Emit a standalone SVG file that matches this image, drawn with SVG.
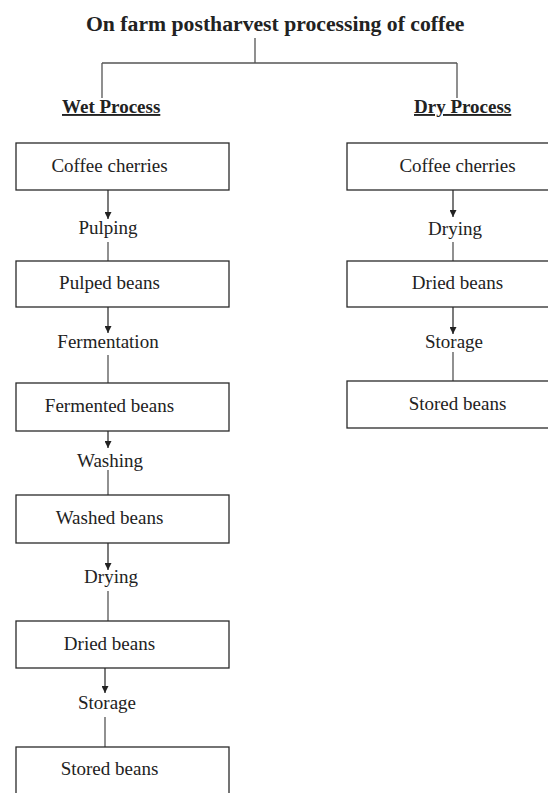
<svg xmlns="http://www.w3.org/2000/svg" width="548" height="793" viewBox="0 0 548 793">
<style>
text{font-family:'Liberation Serif','Times New Roman','DejaVu Serif',serif;fill:#222;}
.title{font-size:21.7px;font-weight:bold;}
.head{font-size:19px;font-weight:bold;text-decoration:underline;}
.body{font-size:19px;text-anchor:middle;}
.box{fill:#fff;stroke:#2a2a2a;stroke-width:1.3;}
.ln{stroke:#555;stroke-width:1.3;fill:none;}
.ar{stroke:#333;stroke-width:1.3;fill:none;marker-end:url(#ah);}
</style>
<defs>
<marker id="ah" viewBox="0 0 10 10" refX="10" refY="5" markerWidth="9" markerHeight="7" markerUnits="userSpaceOnUse" orient="auto">
<path d="M0,0 L10,5 L0,10 Z" fill="#222"/>
</marker>
</defs>
<g id="title"><text class="title" x="86" y="31" font-family="Liberation Serif, serif">On farm postharvest processing of coffee</text></g>
<g id="wet-head"><text class="head" x="62" y="113" font-family="Liberation Serif, serif">Wet Process</text></g>
<g id="dry-head"><text class="head" x="414" y="113" font-family="Liberation Serif, serif">Dry Process</text></g>

<g id="connectors">
<path class="ln" d="M255,38 V63 M102,63 H457 M102,63 V98 M457,63 V98"/>
<line class="ar" x1="108" y1="190" x2="108" y2="219"/>
<line class="ln" x1="108" y1="242" x2="108" y2="261"/>
<line class="ar" x1="108" y1="307" x2="108" y2="333"/>
<line class="ln" x1="108" y1="355" x2="108" y2="383"/>
<line class="ar" x1="108" y1="431" x2="108" y2="448"/>
<line class="ln" x1="108" y1="470" x2="108" y2="495"/>
<line class="ar" x1="108" y1="543" x2="108" y2="570"/>
<line class="ln" x1="108" y1="591" x2="108" y2="621"/>
<line class="ar" x1="105" y1="668" x2="105" y2="693"/>
<line class="ln" x1="105" y1="717" x2="105" y2="747"/>
<line class="ar" x1="453" y1="190" x2="453" y2="217"/>
<line class="ln" x1="453" y1="242" x2="453" y2="261"/>
<line class="ar" x1="453" y1="307" x2="453" y2="334"/>
<line class="ln" x1="453" y1="352" x2="453" y2="381"/>
</g>

<g id="wet-labels" font-family="Liberation Serif, serif">
<text class="body" x="108" y="234">Pulping</text>
<text class="body" x="108" y="348">Fermentation</text>
<text class="body" x="110" y="467">Washing</text>
<text class="body" x="111" y="583">Drying</text>
<text class="body" x="107" y="709">Storage</text>
</g>
<g id="dry-labels" font-family="Liberation Serif, serif">
<text class="body" x="455" y="235">Drying</text>
<text class="body" x="454" y="348">Storage</text>
</g>

<g id="w1"><rect class="box" x="16" y="143" width="213" height="47"/><text class="body" x="109.5" y="172">Coffee cherries</text></g>
<g id="w2"><rect class="box" x="16" y="261" width="213" height="46"/><text class="body" x="109.5" y="289">Pulped beans</text></g>
<g id="w3"><rect class="box" x="16" y="383" width="213" height="48"/><text class="body" x="109.5" y="412">Fermented beans</text></g>
<g id="w4"><rect class="box" x="16" y="495" width="213" height="48"/><text class="body" x="109.5" y="524">Washed beans</text></g>
<g id="w5"><rect class="box" x="16" y="621" width="213" height="47"/><text class="body" x="109.5" y="650">Dried beans</text></g>
<g id="w6"><rect class="box" x="16" y="747" width="213" height="60"/><text class="body" x="109.5" y="775">Stored beans</text></g>

<g id="d1"><rect class="box" x="347" y="143" width="220" height="47"/><text class="body" x="457.5" y="172">Coffee cherries</text></g>
<g id="d2"><rect class="box" x="347" y="261" width="220" height="46"/><text class="body" x="457.5" y="289">Dried beans</text></g>
<g id="d3"><rect class="box" x="347" y="381" width="220" height="47"/><text class="body" x="457.5" y="410">Stored beans</text></g>
</svg>
